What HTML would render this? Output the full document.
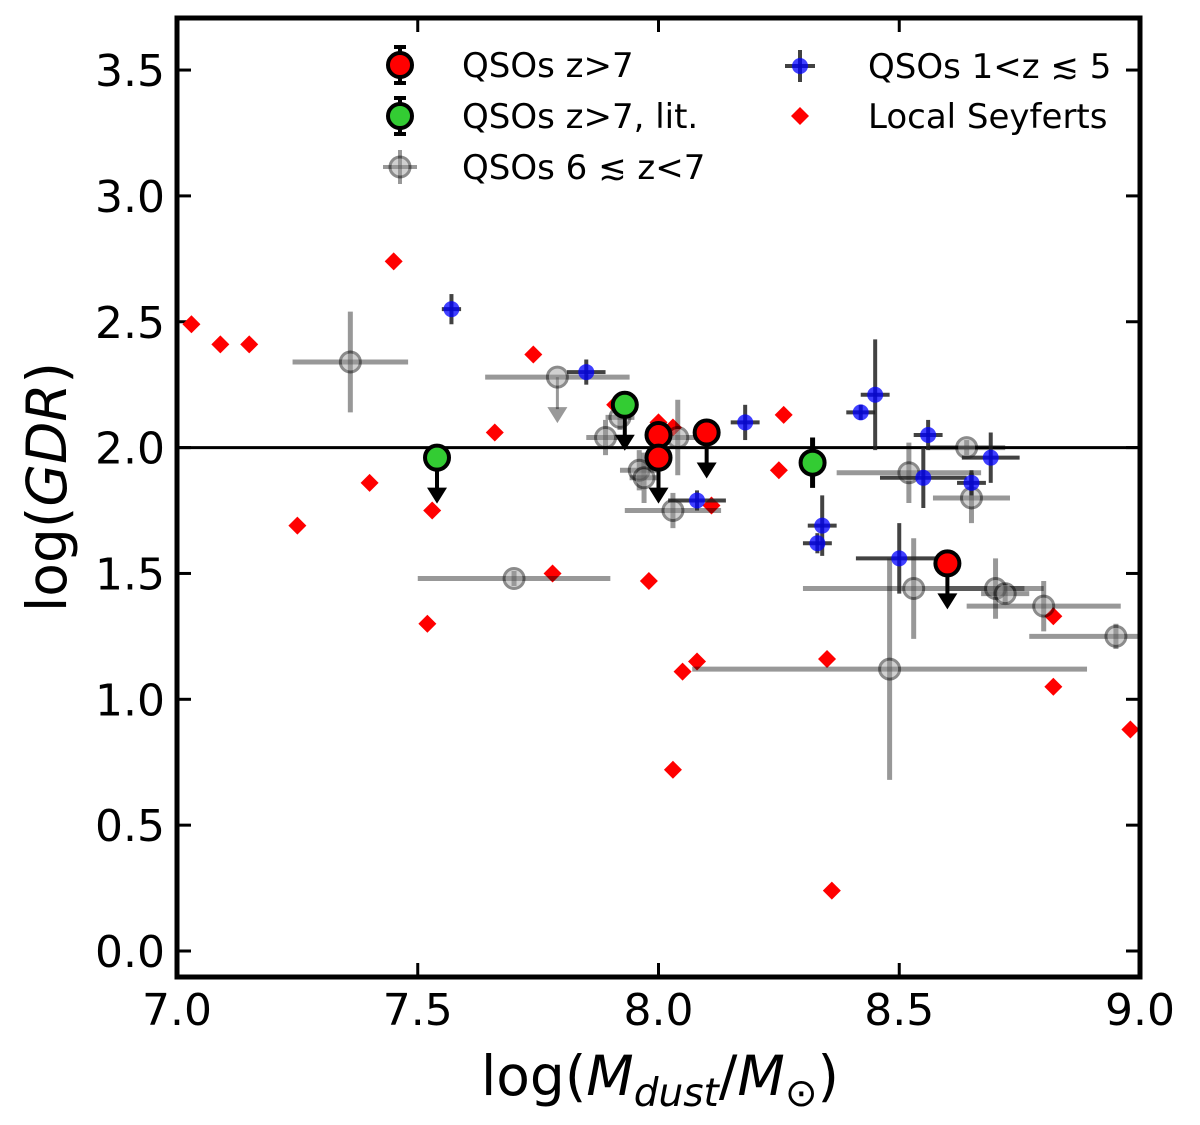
<!DOCTYPE html>
<html><head><meta charset="utf-8"><style>
body{margin:0;background:#fff;}
svg{display:block;font-family:"DejaVu Sans","Liberation Sans",sans-serif;}
</style></head><body>
<svg id="chart" width="1200" height="1125" viewBox="0 0 1200 1125" xmlns="http://www.w3.org/2000/svg">
<defs><clipPath id="pc"><rect x="177" y="18" width="963" height="959"/></clipPath></defs>
<g id="ticks"></g>
<g id="marks" clip-path="url(#pc)"></g>
<rect x="177" y="18" width="963" height="959" fill="none" stroke="#000" stroke-width="5"/>
<text x="660" y="1095" font-size="55" text-anchor="middle">log(<tspan font-style="italic">M</tspan><tspan font-style="italic" font-size="39" dy="11">dust</tspan><tspan dy="-11">/</tspan><tspan font-style="italic">M</tspan><tspan font-size="39" dy="11">⊙</tspan><tspan dy="-11">)</tspan></text>
<text transform="translate(66,487) rotate(-90)" font-size="55" text-anchor="middle">log(<tspan font-style="italic">GDR</tspan>)</text>
<g id="legend" font-size="34"></g>
</svg>
<script>
const xTicks=[7.0,7.5,8.0,8.5,9.0];
const yTicks=[0.0,0.5,1.0,1.5,2.0,2.5,3.0,3.5];
const seyX=[7.03,7.09,7.15,7.25,7.40,7.45,7.52,7.53,7.66,7.74,7.78,7.91,7.98,8.00,8.03,8.03,8.05,8.08,8.11,8.26,8.25,8.35,8.36,8.82,8.82,8.98];
const seyY=[2.49,2.41,2.41,1.69,1.86,2.74,1.30,1.75,2.06,2.37,1.50,2.17,1.47,2.10,0.72,2.08,1.11,1.15,1.77,2.13,1.91,1.16,0.24,1.33,1.05,0.88];
const blueX=[7.57,7.85,8.18,8.42,8.45,8.56,8.55,8.65,8.69,8.34,8.33,8.50,8.08];
const blueY=[2.55,2.30,2.10,2.14,2.21,2.05,1.88,1.86,1.96,1.69,1.62,1.56,1.79];
const blueXerr=[0.02,0.04,0.03,0.03,0.03,0.03,0.09,0.03,0.06,0.03,0.03,0.09,0.06];
const blueYerr=[0.06,0.05,0.07,0.03,0.22,0.06,0.12,0.05,0.10,0.12,0.04,0.14,0.04];
const grayX=[7.36,7.79,7.89,7.92,7.96,7.97,8.04,8.03,8.52,8.64,8.65,8.53,8.70,8.72,8.80,8.95,8.48,7.70];
const grayY=[2.34,2.28,2.04,2.12,1.91,1.88,2.04,1.75,1.90,2.00,1.80,1.44,1.44,1.42,1.37,1.25,1.12,1.48];
const grayXerr=[0.12,0.15,0.04,0.03,0.04,0.03,0.04,0.10,0.15,0.08,0.08,0.23,0.10,0.05,0.16,0.18,0.41,0.20];
const grayYerr=[0.20,0,0.07,0.05,0.08,0.10,0.15,0.07,0.12,0.03,0.10,0.20,0.12,0.04,0.10,0.05,0.44,0.03];
const grayLim=[0,1,0,0,0,0,0,0,0,0,0,0,0,0,0,0,0,0];
const redX=[8.00,8.00,8.10,8.60];
const redY=[2.05,1.96,2.06,1.54];
const redLim=[0,1,1,1];
const greenX=[7.54,7.93,8.32];
const greenY=[1.96,2.17,1.94];
const greenLim=[1,1,0];
const greenYerr=[0,0,0.1];
const refLine=[2.0];

const X=v=>177+(v-7)*481.5;
const Y=v=>951-v*251.7;
const NS="http://www.w3.org/2000/svg";
function mk(parent,tag,attrs){const e=document.createElementNS(NS,tag);for(const k in attrs)e.setAttribute(k,attrs[k]);parent.appendChild(e);return e;}
const T=document.getElementById('ticks'),M=document.getElementById('marks'),L=document.getElementById('legend');

xTicks.forEach(v=>{
  const t=mk(T,'line',{x1:X(v),x2:X(v),y1:977,y2:963,stroke:'#000','stroke-width':3});
  
  
  const t2=mk(T,'line',{x1:X(v),x2:X(v),y1:18,y2:32,stroke:'#000','stroke-width':3});
  
  
  const s=mk(T,'text',{x:X(v),y:1025,'font-size':44,'text-anchor':'middle'});s.textContent=v.toFixed(1);
  
  
});
yTicks.forEach(v=>{
  const t=mk(T,'line',{x1:177,x2:191,y1:Y(v),y2:Y(v),stroke:'#000','stroke-width':3});
  
  
  const t2=mk(T,'line',{x1:1126,x2:1140,y1:Y(v),y2:Y(v),stroke:'#000','stroke-width':3});
  
  
  const s=mk(T,'text',{x:165,y:Y(v)+16,'font-size':44,'text-anchor':'end'});s.textContent=v.toFixed(1);
  
  
});

const ref=mk(M,'line',{x1:177,x2:1140,y1:Y(refLine[0]),y2:Y(refLine[0]),stroke:'#000','stroke-width':3});



function arrow(g,x,y,col,w,op){
  mk(g,'line',{x1:x,x2:x,y1:y,y2:y+32,stroke:col,'stroke-width':w,opacity:op||1});
  mk(g,'polygon',{points:`${x-10},${y+30} ${x+10},${y+30} ${x},${y+46}`,fill:col,opacity:op||1});
}

seyX.forEach((v,i)=>{
  const cx=X(v),cy=Y(seyY[i]);
  const d=mk(M,'polygon',{points:`${cx},${cy-9} ${cx+9},${cy} ${cx},${cy+9} ${cx-9},${cy}`,fill:'#f00'});
  
  
});

grayX.forEach((v,i)=>{
  const g=mk(M,'g',{});
  
  
  const cx=X(v),cy=Y(grayY[i]);
  mk(g,'line',{x1:X(v-grayXerr[i]),x2:X(v+grayXerr[i]),y1:cy,y2:cy,stroke:'#000','stroke-width':5,opacity:0.4});
  if(grayYerr[i]>0)mk(g,'line',{x1:cx,x2:cx,y1:Y(grayY[i]+grayYerr[i]),y2:Y(grayY[i]-grayYerr[i]),stroke:'#000','stroke-width':5,opacity:0.4});
  if(grayLim[i])arrow(g,cx,cy,'#000',3,0.4);
  mk(g,'circle',{cx:cx,cy:cy,r:10,fill:'#999',stroke:'#000','stroke-width':3,opacity:0.45});
});

blueX.forEach((v,i)=>{
  const g=mk(M,'g',{});
  
  
  const cx=X(v),cy=Y(blueY[i]);
  mk(g,'line',{x1:X(v-blueXerr[i]),x2:X(v+blueXerr[i]),y1:cy,y2:cy,stroke:'#222','stroke-width':4,opacity:0.85});
  mk(g,'line',{x1:cx,x2:cx,y1:Y(blueY[i]+blueYerr[i]),y2:Y(blueY[i]-blueYerr[i]),stroke:'#222','stroke-width':4,opacity:0.85});
  mk(g,'circle',{cx:cx,cy:cy,r:8,fill:'#00f','fill-opacity':0.75});
});

function big(xs,ys,lims,yerr,col,name){
  xs.forEach((v,i)=>{
    const g=mk(M,'g',{});
    
    
    const cx=X(v),cy=Y(ys[i]);
    if(yerr&&yerr[i]>0)mk(g,'line',{x1:cx,x2:cx,y1:Y(ys[i]+yerr[i]),y2:Y(ys[i]-yerr[i]),stroke:'#000','stroke-width':5});
    if(lims[i])arrow(g,cx,cy,'#000',4);
    mk(g,'circle',{cx:cx,cy:cy,r:12,fill:col,stroke:'#000','stroke-width':4});
  });
}
big(greenX,greenY,greenLim,greenYerr,'#33cc33','qso-z7-lit-point');
big(redX,redY,redLim,null,'#f00','qso-z7-point');

function lt(x,y,s){const t=mk(L,'text',{x:x,y:y});t.textContent=s;}
[[65,'#f00','QSOs z>7'],[116,'#33cc33','QSOs z>7, lit.']].forEach(r=>{
  const g=mk(L,'g',{});
  
  
  mk(g,'line',{x1:400,x2:400,y1:r[0]-18,y2:r[0]+18,stroke:'#000','stroke-width':4});
  mk(g,'line',{x1:394,x2:406,y1:r[0]-18,y2:r[0]-18,stroke:'#000','stroke-width':4});
  mk(g,'line',{x1:394,x2:406,y1:r[0]+18,y2:r[0]+18,stroke:'#000','stroke-width':4});
  mk(g,'circle',{cx:400,cy:r[0],r:12,fill:r[1],stroke:'#000','stroke-width':4});
  lt(462,r[0]+12,r[2]);
});
const lg=mk(L,'g',{});


mk(lg,'line',{x1:400,x2:400,y1:150,y2:184,stroke:'#000','stroke-width':4,opacity:0.4});
mk(lg,'line',{x1:383,x2:417,y1:167,y2:167,stroke:'#000','stroke-width':4,opacity:0.4});
mk(lg,'circle',{cx:400,cy:167,r:10,fill:'#999',stroke:'#000','stroke-width':3,opacity:0.45});
lt(462,179,'QSOs 6 ≲ z<7');
const lb=mk(L,'g',{});


mk(lb,'line',{x1:800,x2:800,y1:50,y2:82,stroke:'#222','stroke-width':4,opacity:0.85});
mk(lb,'line',{x1:785,x2:815,y1:66,y2:66,stroke:'#222','stroke-width':4,opacity:0.85});
mk(lb,'circle',{cx:800,cy:66,r:8,fill:'#00f','fill-opacity':0.75});
lt(868,78,'QSOs 1<z ≲ 5');
const ld=mk(L,'polygon',{points:'800,107 809,116 800,125 791,116',fill:'#f00'});


lt(868,128,'Local Seyferts');
</script>
</body></html>
